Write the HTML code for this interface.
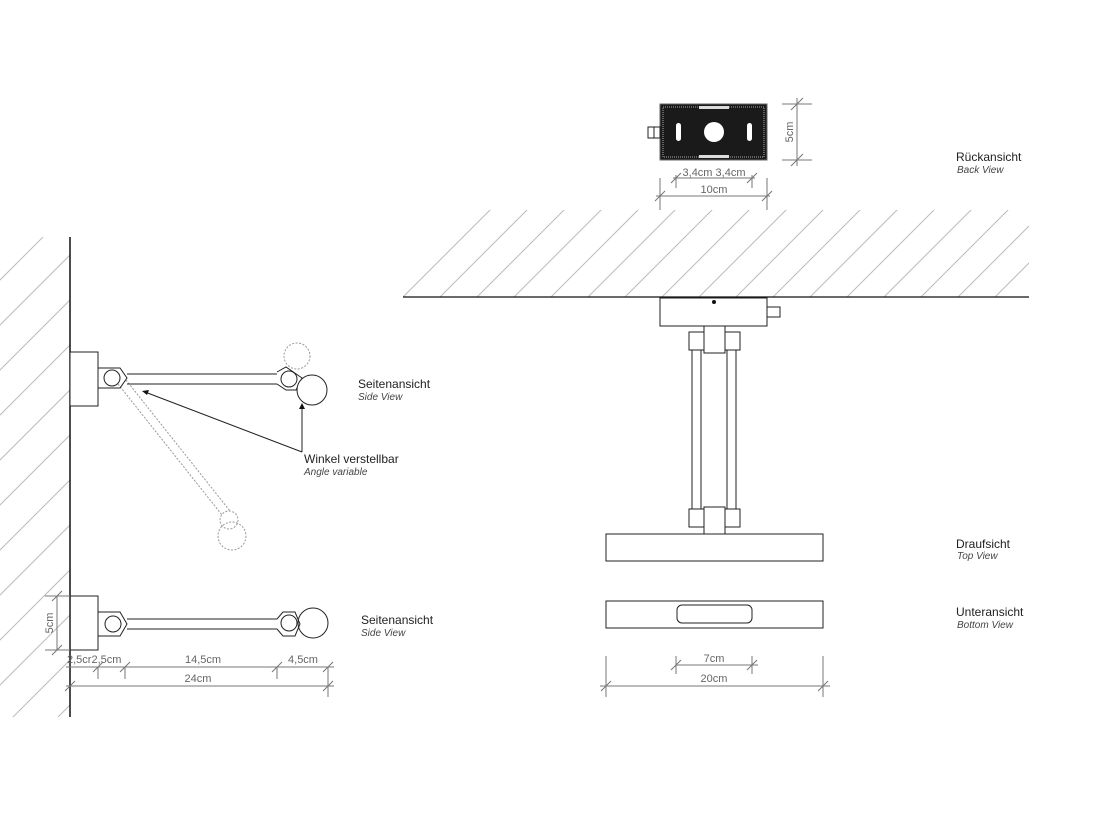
<!DOCTYPE html>
<html><head><meta charset="utf-8"><style>
html,body{margin:0;padding:0;background:#fff}
svg{display:block}
text{font-family:"Liberation Sans",sans-serif}
.l{font-size:12px;fill:#222}
.i{font-size:10px;font-style:italic;fill:#444}
.d{font-size:11px;fill:#666}
</style></head><body>
<svg width="1097" height="817" viewBox="0 0 1097 817" xmlns="http://www.w3.org/2000/svg">
<defs>
<clipPath id="cl"><rect x="0" y="237" width="70" height="480"/></clipPath>
<clipPath id="ct"><rect x="403" y="210" width="626" height="87"/></clipPath>
</defs>
<g clip-path="url(#cl)" stroke="#bbb" stroke-width="1">
<path d="M-20 300L80 200M-20 345L80 245M-20 390L80 290M-20 435L80 335M-20 480L80 380M-20 525L80 425M-20 570L80 470M-20 615L80 515M-20 660L80 560M-20 705L80 605M-20 750L80 650M-20 795L80 695M-20 840L80 740"/>
</g>
<g clip-path="url(#ct)" stroke="#bbb" stroke-width="1">
<path d="M360 340L500 200M397 340L537 200M434 340L574 200M471 340L611 200M508 340L648 200M545 340L685 200M582 340L722 200M619 340L759 200M656 340L796 200M693 340L833 200M730 340L870 200M767 340L907 200M804 340L944 200M841 340L981 200M878 340L1018 200M915 340L1055 200M952 340L1092 200M989 340L1129 200"/>
</g>
<line x1="70" y1="237" x2="70" y2="717" stroke="#111" stroke-width="1.5"/>
<line x1="403" y1="297" x2="1029" y2="297" stroke="#111" stroke-width="1.3"/>

<!-- upper side view -->
<g fill="none" stroke="#999" stroke-dasharray="2,1.5">
<line x1="118" y1="384" x2="222" y2="515"/><line x1="126" y1="380" x2="230" y2="511"/>
<circle cx="297" cy="356" r="13"/><circle cx="229" cy="520" r="9"/><circle cx="232" cy="536" r="14"/>
</g>
<g fill="none" stroke="#222" stroke-width="1">
<rect x="70" y="352" width="28" height="54" fill="#fff"/>
<path d="M98 368H120L127 378L120 388H98"/>
<circle cx="112" cy="378" r="8"/>
<line x1="127" y1="374" x2="277" y2="374"/><line x1="127" y1="384" x2="277" y2="384"/>
<path d="M277 372L286 367L302 378L296 390L286 390L277 384"/>
<circle cx="289" cy="379" r="8"/>
<circle cx="312" cy="390" r="15" fill="#fff"/>
<path d="M302 452V405M302 452L145 392"/>
</g>
<path d="M302 403l-3 6h6z M142 391l7 -1 -2 5z" fill="#111"/>
<text x="304" y="463" class="l">Winkel verstellbar</text>
<text x="304" y="475" class="i">Angle variable</text>
<text x="358" y="388" class="l">Seitenansicht</text>
<text x="358" y="400" class="i">Side View</text>

<!-- lower side view -->
<g fill="none" stroke="#222" stroke-width="1">
<rect x="70" y="596" width="28" height="54"/>
<path d="M98 612H120L127 624L120 636H98"/>
<circle cx="113" cy="624" r="8"/>
<line x1="127" y1="619" x2="277" y2="619"/><line x1="127" y1="629" x2="277" y2="629"/>
<path d="M277 619L283 612H295L300 624L295 636H283L277 629"/>
<circle cx="289" cy="623" r="8"/>
<circle cx="313" cy="623" r="15"/>
</g>
<text x="361" y="624" class="l">Seitenansicht</text>
<text x="361" y="636" class="i">Side View</text>
<g stroke="#777" stroke-width="1" fill="none">
<line x1="57" y1="596" x2="57" y2="650"/><line x1="45" y1="596" x2="70" y2="596"/><line x1="45" y1="650" x2="70" y2="650"/>
<line x1="66" y1="667" x2="334" y2="667"/><line x1="66" y1="686" x2="334" y2="686"/>
<line x1="98" y1="667" x2="98" y2="679"/><line x1="125" y1="667" x2="125" y2="679"/><line x1="277" y1="667" x2="277" y2="679"/><line x1="328" y1="667" x2="328" y2="697"/>
<path d="M93 672l10-10M120 672l10-10M272 672l10-10M323 672l10-10M65 691l10-10M323 691l10-10M52 601l10-10M52 655l10-10"/>
</g>
<text transform="translate(53 623) rotate(-90)" text-anchor="middle" class="d">5cm</text>
<text x="67" y="663" class="d">2,5cr2,5cm</text>
<text x="203" y="663" text-anchor="middle" class="d">14,5cm</text>
<text x="303" y="663" text-anchor="middle" class="d">4,5cm</text>
<text x="198" y="682" text-anchor="middle" class="d">24cm</text>

<!-- back view -->
<rect x="660" y="104" width="107" height="56" fill="#1a1a1a" stroke="#666"/>
<rect x="663" y="107" width="101" height="50" fill="none" stroke="#aaa" stroke-dasharray="1,1"/>
<rect x="699" y="106" width="30" height="3" fill="#ddd"/><rect x="699" y="155" width="30" height="3" fill="#ddd"/>
<circle cx="714" cy="132" r="10" fill="#fff"/>
<rect x="676" y="123" width="5" height="18" rx="2.5" fill="#fff"/>
<rect x="747" y="123" width="5" height="18" rx="2.5" fill="#fff"/>
<rect x="648" y="127" width="12" height="11" fill="#fff" stroke="#222"/><line x1="654" y1="127" x2="654" y2="138" stroke="#222"/>
<g stroke="#777" stroke-width="1" fill="none">
<line x1="797" y1="98" x2="797" y2="166"/><line x1="782" y1="104" x2="812" y2="104"/><line x1="782" y1="160" x2="812" y2="160"/>
<path d="M791 110l12-12M791 166l12-12"/>
<line x1="673" y1="178" x2="755" y2="178"/><line x1="676" y1="175" x2="676" y2="188"/><line x1="752" y1="175" x2="752" y2="188"/>
<line x1="656" y1="196" x2="770" y2="196"/><line x1="660" y1="178" x2="660" y2="210"/><line x1="767" y1="178" x2="767" y2="210"/>
<path d="M671 183l10-10M747 183l10-10M655 201l10-10M762 201l10-10"/>
</g>
<text transform="translate(793 132) rotate(-90)" text-anchor="middle" class="d">5cm</text>
<text x="714" y="176" text-anchor="middle" class="d">3,4cm 3,4cm</text>
<text x="714" y="193" text-anchor="middle" class="d">10cm</text>
<text x="956" y="161" class="l">Rückansicht</text>
<text x="957" y="173" class="i">Back View</text>

<!-- front view -->
<g fill="#fff" stroke="#222" stroke-width="1">
<rect x="660" y="298" width="107" height="28"/>
<rect x="767" y="307" width="13" height="10"/>
<rect x="689" y="332" width="51" height="18"/>
<rect x="692" y="350" width="9" height="160"/><rect x="727" y="350" width="9" height="160"/>
<rect x="689" y="509" width="51" height="18"/>
<rect x="704" y="326" width="21" height="27"/>
<rect x="704" y="507" width="21" height="27"/>
<rect x="606" y="534" width="217" height="27"/>
<rect x="606" y="601" width="217" height="27"/>
<rect x="677" y="605" width="75" height="18" rx="5"/>
</g>
<circle cx="714" cy="302" r="2" fill="#111"/>
<g stroke="#777" stroke-width="1" fill="none">
<line x1="676" y1="656" x2="676" y2="674"/><line x1="752" y1="656" x2="752" y2="674"/><line x1="676" y1="665" x2="758" y2="665"/>
<line x1="606" y1="656" x2="606" y2="697"/><line x1="823" y1="656" x2="823" y2="697"/><line x1="600" y1="686" x2="830" y2="686"/>
<path d="M671 670l10-10M747 670l10-10M601 691l10-10M818 691l10-10"/>
</g>
<text x="714" y="662" text-anchor="middle" class="d">7cm</text>
<text x="714" y="682" text-anchor="middle" class="d">20cm</text>
<text x="956" y="548" class="l">Draufsicht</text>
<text x="957" y="559" class="i">Top View</text>
<text x="956" y="616" class="l">Unteransicht</text>
<text x="957" y="628" class="i">Bottom View</text>
</svg>
</body></html>
